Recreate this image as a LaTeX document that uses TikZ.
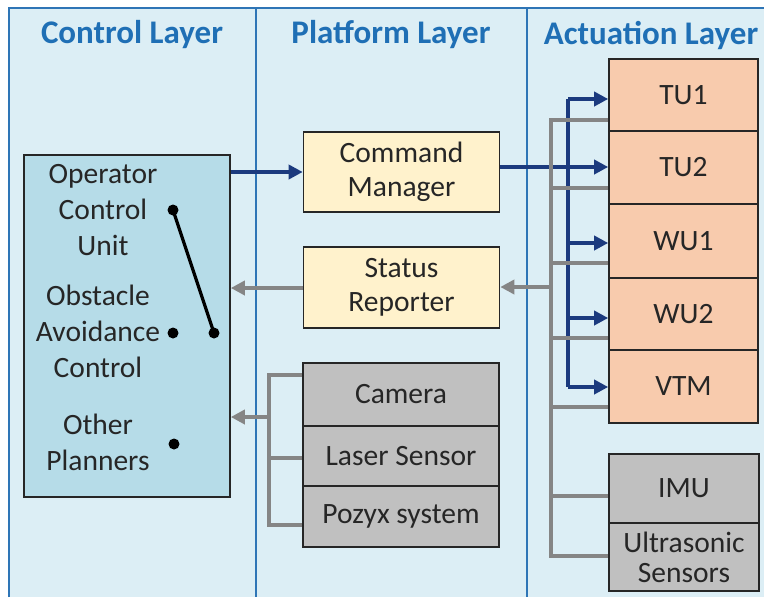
\documentclass[tikz,border=0pt]{standalone}
\usepackage{fontspec}
\setmainfont{Carlito}
\usetikzlibrary{arrows.meta}
\definecolor{panel}{HTML}{DCEEF5}
\definecolor{panelline}{HTML}{2E75B6}
\definecolor{head}{HTML}{1F6FB5}
\definecolor{ctrl}{HTML}{B6DCE8}
\definecolor{yel}{HTML}{FFF2CC}
\definecolor{peach}{HTML}{F8CBAD}
\definecolor{grayb}{HTML}{C0C0C0}
\definecolor{navy}{HTML}{1B3A7E}
\definecolor{gline}{HTML}{858585}
\begin{document}
\begin{tikzpicture}[x=1pt,y=-1pt,
  box/.style={draw=black!85,line width=1.6pt,minimum width=#1,inner sep=0pt,font=\fontsize{29.5}{34}\selectfont,align=center,text=black!85},
  box/.default=196pt,
  txt/.style={font=\fontsize{29.5}{33}\selectfont,text=black!85,align=center,anchor=center},
  header/.style={font=\bfseries\fontsize{33}{38}\selectfont,text=head},
  navyarrow/.style={draw=navy,line width=4pt,-{Triangle[length=14pt,width=14pt]}},
  navyline/.style={draw=navy,line width=4pt},
  grayarrow/.style={draw=gline,line width=4pt,-{Triangle[length=14pt,width=14pt]}},
  grayline/.style={draw=gline,line width=4pt},
  dot/.style={circle,fill=black,inner sep=0pt,minimum size=11pt}]
\useasboundingbox (0,0) rectangle (764,600);
\fill[white] (0,0) rectangle (764,600);
% panels
\fill[panel] (9,8) rectangle (764,597);
\draw[panelline,line width=2pt] (9,597) -- (9,8) -- (764,8);
\draw[panelline,line width=1.6pt] (256,8) -- (256,597);
\draw[panelline,line width=1.6pt] (527,8) -- (527,597);
\node[header] (h1) at (132,35) {Control Layer};
\node[header] (h2) at (391,35) {Platform Layer};
\node[header] (h3) at (651,35) {Actuation Layer};
% control box
\node[draw=black!85,line width=1.6pt,fill=ctrl,minimum width=206pt,minimum height=342pt,inner sep=0pt] (ctrl) at (127,326) {};
\node[txt] (ocu) at (103,210) {Operator\\[3pt]Control\\[3pt]Unit};
\node[txt] (oac) at (98,331) {Obstacle\\[3pt]Avoidance\\[3pt]Control};
\node[txt] (op) at (98,442) {Other\\[3pt]Planners};
\node[dot] (d1) at (173,210) {};
\node[dot] (d2) at (173,333) {};
\node[dot] (d3) at (174,444) {};
\node[dot] (d4) at (214,333) {};
\draw[black,line width=3.2pt] (d1.center) -- (d4.center);
% platform boxes
\node[box,fill=yel,minimum height=80pt] (cm) at (401.5,172) {Command\\Manager};
\node[box,fill=yel,minimum height=81pt] (sr) at (401.5,287.5) {Status\\Reporter};
\node[box,fill=grayb,minimum height=63pt] (cam) at (401,394.5) {Camera};
\node[box,fill=grayb,minimum height=60pt] (las) at (401,456) {Laser Sensor};
\node[box,fill=grayb,minimum height=61pt] (poz) at (401,516.5) {Pozyx system};
% actuation boxes
\node[box=149pt,fill=peach,minimum height=72pt] (tu1) at (683.5,95) {TU1};
\node[box=149pt,fill=peach,minimum height=73pt] (tu2) at (683.5,167.5) {TU2};
\node[box=149pt,fill=peach,minimum height=74pt] (wu1) at (683.5,241) {WU1};
\node[box=149pt,fill=peach,minimum height=72pt] (wu2) at (683.5,314) {WU2};
\node[box=149pt,fill=peach,minimum height=73pt] (vtm) at (683.5,386.5) {VTM};
\node[box=150pt,fill=grayb,minimum height=69pt] (imu) at (684,488.5) {IMU};
\node[box=150pt,fill=grayb,minimum height=68pt,font=\fontsize{29.5}{30}\selectfont] (uls) at (684,557) {Ultrasonic\\Sensors};
% coordinates
\coordinate (nb1) at (568,99);
\coordinate (nb5) at (568,387);
\coordinate (gt) at (551,120);
\coordinate (gb) at (551,556);
\coordinate (gs) at (551,287);
\coordinate (pt) at (269,375);
\coordinate (pb) at (269,525);
\coordinate (pm) at (269,417);
% navy connectors
\draw[navyarrow] (ctrl.east |- 0,172) -- (cm.west |- 0,172);
\draw[navyarrow] (cm.east |- 0,167) -- (tu2.west |- 0,167);
\draw[navyline] (nb1) -- (nb5);
\draw[navyarrow] (nb1) -- (tu1.west |- nb1);
\draw[navyarrow] (568,243) -- (wu1.west |- 0,243);
\draw[navyarrow] (568,318) -- (wu2.west |- 0,318);
\draw[navyarrow] (nb5) -- (vtm.west |- nb5);
% gray bus actuation
\draw[grayline] (tu1.west |- gt) -- (gt) -- (gb) -- (uls.west |- gb);
\draw[grayline] (tu2.west |- 0,188) -- (551,188);
\draw[grayline] (wu1.west |- 0,263) -- (551,263);
\draw[grayline] (wu2.west |- 0,338) -- (551,338);
\draw[grayline] (vtm.west |- 0,407) -- (551,407);
\draw[grayline] (imu.west |- 0,496) -- (551,496);
\draw[grayarrow] (gs) -- (sr.east |- gs);
\draw[grayarrow] (sr.west |- 0,288) -- (ctrl.east |- 0,288);
% gray bus platform
\draw[grayline] (cam.west |- pt) -- (pt) -- (pb) -- (poz.west |- pb);
\draw[grayline] (las.west |- 0,458) -- (269,458);
\draw[grayarrow] (pm) -- (ctrl.east |- pm);
\end{tikzpicture}
\end{document}
